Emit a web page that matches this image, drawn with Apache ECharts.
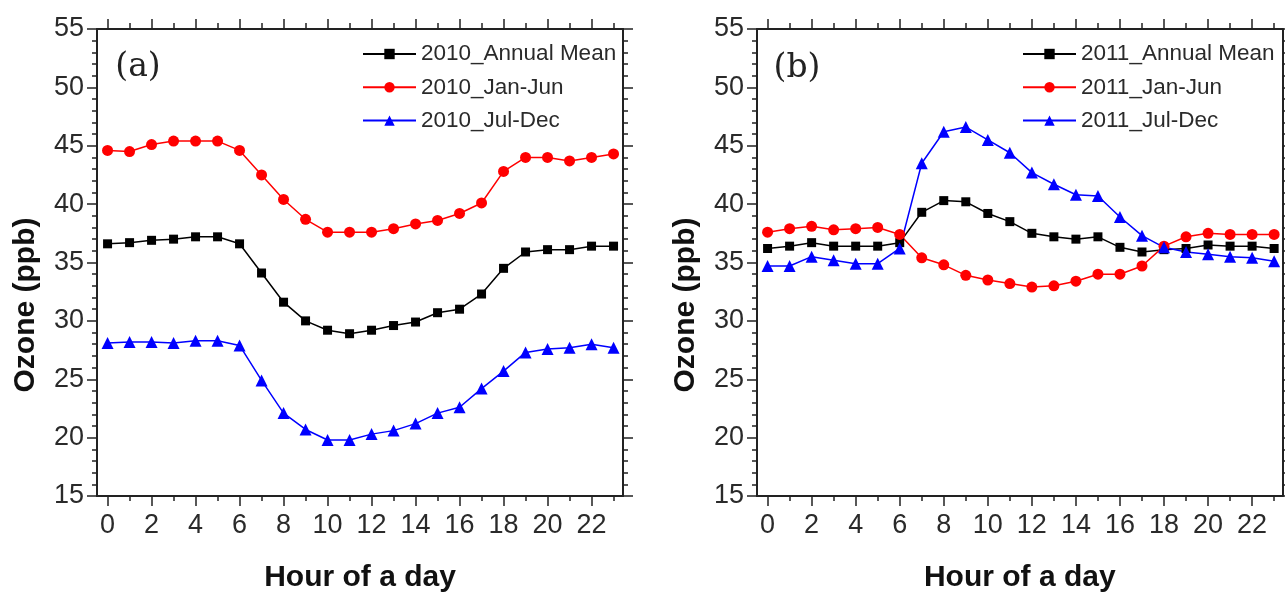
<!DOCTYPE html>
<html><head><meta charset="utf-8">
<script src="https://cdn.jsdelivr.net/npm/echarts@6/dist/echarts.min.js"></script>
<style>html,body{margin:0;padding:0;background:#fff}#c{width:1285px;height:595px}</style>
</head><body><div id="c"></div>
<script>
const hours = [0,1,2,3,4,5,6,7,8,9,10,11,12,13,14,15,16,17,18,19,20,21,22,23];
const majorHours = [0,2,4,6,8,10,12,14,16,18,20,22];
const minorHours = [1,3,5,7,9,11,13,15,17,19,21,23];
const yTicks = [15,20,25,30,35,40,45,50,55];

const a_annual = [36.6,36.7,36.9,37.0,37.2,37.2,36.6,34.1,31.6,30.0,29.2,28.9,29.2,29.6,29.9,30.7,31.0,32.3,34.5,35.9,36.1,36.1,36.4,36.4];
const a_janjun = [44.6,44.5,45.1,45.4,45.4,45.4,44.6,42.5,40.4,38.7,37.6,37.6,37.6,37.9,38.3,38.6,39.2,40.1,42.8,44.0,44.0,43.7,44.0,44.3];
const a_juldec = [28.1,28.2,28.2,28.1,28.3,28.3,27.9,24.9,22.1,20.7,19.8,19.8,20.3,20.6,21.2,22.1,22.6,24.2,25.7,27.3,27.6,27.7,28.0,27.7];

const b_annual = [36.2,36.4,36.7,36.4,36.4,36.4,36.7,39.3,40.3,40.2,39.2,38.5,37.5,37.2,37.0,37.2,36.3,35.9,36.1,36.2,36.5,36.4,36.4,36.2];
const b_janjun = [37.6,37.9,38.1,37.8,37.9,38.0,37.4,35.4,34.8,33.9,33.5,33.2,32.9,33.0,33.4,34.0,34.0,34.7,36.4,37.2,37.5,37.4,37.4,37.4];
const b_juldec = [34.7,34.7,35.5,35.2,34.9,34.9,36.2,43.5,46.2,46.6,45.5,44.4,42.7,41.7,40.8,40.7,38.9,37.3,36.3,35.9,35.7,35.5,35.4,35.1];

const namesA = ['2010_Annual Mean','2010_Jan-Jun','2010_Jul-Dec'];
const namesB = ['2011_Annual Mean','2011_Jan-Jun','2011_Jul-Dec'];

const SANS = "'Liberation Sans',Arial,sans-serif";
const AX = '#222';
const TXT = '#2a2a2a';

const grids = [
  {left: 97, top: 29, width: 526, height: 467, outerBoundsMode: 'none', containLabel: false},
  {left: 757, top: 29, width: 525.5, height: 467, outerBoundsMode: 'none', containLabel: false}
];
const xRanges = [[-0.48, 23.43], [-0.48, 23.38]];

const xAxes = [], yAxes = [];
grids.forEach((g, i) => {
  const [mn, mx] = xRanges[i];
  const base = {type: 'value', gridIndex: i, min: mn, max: mx, splitLine: {show: false}};
  xAxes.push(Object.assign({}, base, {
    position: 'bottom',
    axisLine: {show: true, onZero: false, lineStyle: {color: AX, width: 2}},
    axisTick: {show: true, customValues: majorHours, length: 10, lineStyle: {color: AX, width: 1.5}},
    axisLabel: {show: true, customValues: majorHours, margin: 16, fontSize: 27, fontFamily: SANS, color: TXT},
    name: 'Hour of a day', nameLocation: 'middle', nameGap: 67,
    nameTextStyle: {fontSize: 30, fontWeight: 'bold', fontFamily: SANS, color: '#111'}
  }));
  xAxes.push(Object.assign({}, base, {
    position: 'bottom',
    axisLine: {show: false, onZero: false},
    axisTick: {show: true, customValues: minorHours, length: 5, lineStyle: {color: AX, width: 1.5}},
    axisLabel: {show: false}
  }));
  xAxes.push(Object.assign({}, base, {
    position: 'top',
    axisLine: {show: true, onZero: false, lineStyle: {color: AX, width: 2}},
    axisTick: {show: true, customValues: majorHours, length: 10, lineStyle: {color: AX, width: 1.5}},
    axisLabel: {show: false}
  }));
  xAxes.push(Object.assign({}, base, {
    position: 'top',
    axisLine: {show: false, onZero: false},
    axisTick: {show: true, customValues: minorHours, length: 6, lineStyle: {color: AX, width: 1.5}},
    axisLabel: {show: false}
  }));
  const ybase = {type: 'value', gridIndex: i, min: 15, max: 55, interval: 5, splitLine: {show: false}};
  yAxes.push(Object.assign({}, ybase, {
    position: 'left',
    axisLine: {show: true, onZero: false, lineStyle: {color: AX, width: 2}},
    axisTick: {show: true, length: 10, lineStyle: {color: AX, width: 1.5}},
    minorTick: {show: true, splitNumber: 5, length: 5, lineStyle: {color: AX, width: 1.5}},
    axisLabel: {show: true, margin: 13, fontSize: 27, fontFamily: SANS, color: TXT}
  }));
  yAxes.push(Object.assign({}, ybase, {
    position: 'right',
    axisLine: {show: true, onZero: false, lineStyle: {color: AX, width: 2}},
    axisTick: {show: true, length: 10, lineStyle: {color: AX, width: 1.5}},
    minorTick: {show: true, splitNumber: 5, length: 5, lineStyle: {color: AX, width: 1.5}},
    axisLabel: {show: false}
  }));
});

const styles = [
  {color: '#000000', symbol: 'rect', symbolSize: 9},
  {color: '#ff0000', symbol: 'circle', symbolSize: 11},
  {color: '#0000ff', symbol: 'triangle', symbolSize: 12}
];
function mk(name, vals, st, panel) {
  return {
    type: 'line', name: name, xAxisIndex: panel * 4, yAxisIndex: panel * 2,
    data: hours.map((h, k) => [h, vals[k]]),
    symbol: st.symbol, symbolSize: st.symbolSize, showAllSymbol: true,
    lineStyle: {color: st.color, width: 1.5},
    itemStyle: {color: st.color},
    animation: false, z: 3
  };
}
const series = [
  mk(namesA[0], a_annual, styles[0], 0),
  mk(namesA[1], a_janjun, styles[1], 0),
  mk(namesA[2], a_juldec, styles[2], 0),
  mk(namesB[0], b_annual, styles[0], 1),
  mk(namesB[1], b_janjun, styles[1], 1),
  mk(namesB[2], b_juldec, styles[2], 1)
];

const legendBase = {
  orient: 'vertical', top: 40, padding: 0, itemWidth: 53, itemHeight: 13, itemGap: 5.3,
  textStyle: {fontSize: 22.5, fontFamily: SANS, color: TXT, lineHeight: 28},
  selectedMode: false
};

const chart = echarts.init(document.getElementById('c'), null, {renderer: 'canvas'});
chart.setOption({
  backgroundColor: '#fff',
  animation: false,
  grid: grids,
  xAxis: xAxes,
  yAxis: yAxes,
  legend: [
    Object.assign({}, legendBase, {left: 362, data: namesA}),
    Object.assign({}, legendBase, {left: 1022, data: namesB})
  ],
  series: series,
  graphic: [
    {type: 'text', x: 138, y: 67, style: {text: '(a)', font: "33px 'DejaVu Serif', serif", fill: '#222', align: 'center', verticalAlign: 'middle'}},
    {type: 'text', x: 797, y: 68, style: {text: '(b)', font: "33px 'DejaVu Serif', serif", fill: '#222', align: 'center', verticalAlign: 'middle'}},
    {type: 'text', x: 26, y: 305, rotation: Math.PI / 2, style: {text: 'Ozone (ppb)', font: "bold 30px 'Liberation Sans', Arial, sans-serif", fill: '#111', align: 'center', verticalAlign: 'middle'}},
    {type: 'text', x: 686, y: 305, rotation: Math.PI / 2, style: {text: 'Ozone (ppb)', font: "bold 30px 'Liberation Sans', Arial, sans-serif", fill: '#111', align: 'center', verticalAlign: 'middle'}}
  ]
});
</script>
</body></html>
